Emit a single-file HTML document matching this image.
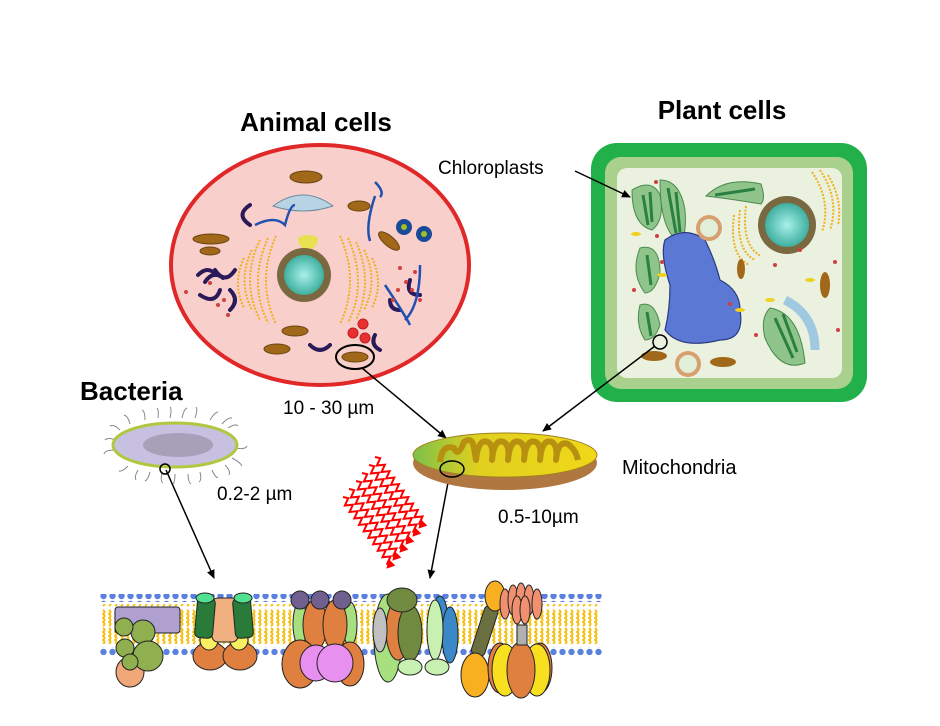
<!DOCTYPE html>
<html><head><meta charset="utf-8"><style>
html,body{margin:0;padding:0;background:#fff;}
svg{display:block;}
text{font-family:"Liberation Sans","Noto Sans CJK KR",sans-serif;}
</style></head><body>
<svg width="940" height="726" viewBox="0 0 940 726" xmlns="http://www.w3.org/2000/svg">
<defs>
<marker id="ah" markerWidth="10" markerHeight="10" refX="8" refY="5" orient="auto" markerUnits="userSpaceOnUse"><path d="M0,1 L9,5 L0,9 z" fill="#000"/></marker>
<marker id="rh" markerWidth="10" markerHeight="10" refX="5" refY="5" orient="auto" markerUnits="userSpaceOnUse"><path d="M0,0 L8,5 L0,10 z" fill="#f00"/></marker>
<radialGradient id="nuc" cx="50%" cy="50%" r="50%"><stop offset="0" stop-color="#a8f0e8"/><stop offset="1" stop-color="#3fb0a0"/></radialGradient>
<linearGradient id="mito" x1="0" y1="0" x2="1" y2="0"><stop offset="0" stop-color="#7cc04a"/><stop offset="0.35" stop-color="#e0d020"/><stop offset="1" stop-color="#f0d818"/></linearGradient>
<pattern id="lip" width="6" height="38" patternUnits="userSpaceOnUse"><path d="M1,2 q3,2 0,4 q3,2 0,4 q3,2 0,4 q3,2 0,4 M1,20 q3,2 0,4 q3,2 0,4 q3,2 0,4 q3,2 0,4" stroke="#f5c010" stroke-width="2" fill="none"/></pattern>
<pattern id="dots" width="9" height="8" patternUnits="userSpaceOnUse"><circle cx="4.5" cy="4" r="3.2" fill="#5a80e0"/></pattern>
<g id="zz"><path d="M0,0 l4,-3.5 l4,7 l4,-7 l4,7 l4,-7 l4,7 l4,-7 l4,7 l4,-7 l4,7 l4,-7 l4,7 l4,-7 l4,7 l4,-7 l4,7 l4,-7 l4,7 l4,-7 l4,7 l4,-3.5" stroke="#f00" stroke-width="2" fill="none" marker-end="url(#rh)"/></g>
</defs>

<!-- Titles -->
<text x="316" y="131" font-size="26" font-weight="bold" text-anchor="middle">Animal cells</text>
<text x="722" y="119" font-size="26" font-weight="bold" text-anchor="middle">Plant cells</text>
<text x="80" y="400" font-size="26" font-weight="bold">Bacteria</text>
<text x="438" y="174" font-size="19">Chloroplasts</text>
<text x="622" y="474" font-size="20">Mitochondria</text>
<text x="283" y="414" font-size="19">10 - 30 µm</text>
<text x="217" y="500" font-size="19">0.2-2 µm</text>
<text x="498" y="523" font-size="19">0.5-10µm</text>

<!-- Animal cell -->
<ellipse cx="320" cy="265" rx="149" ry="120" fill="#f9cfcb" stroke="#e02828" stroke-width="4"/>
<g fill="#a06818" stroke="#6a4410" stroke-width="1">
<ellipse cx="306" cy="177" rx="16" ry="6"/><ellipse cx="359" cy="206" rx="11" ry="5"/>
<ellipse cx="211" cy="239" rx="18" ry="5"/><ellipse cx="210" cy="251" rx="10" ry="4"/>
<ellipse cx="389" cy="241" rx="13" ry="5" transform="rotate(40 389 241)"/>
<ellipse cx="295" cy="331" rx="13" ry="5"/><ellipse cx="277" cy="349" rx="13" ry="5"/>
<ellipse cx="355" cy="357" rx="13" ry="5"/></g>
<ellipse cx="355" cy="357" rx="19" ry="12" fill="none" stroke="#000" stroke-width="2"/>
<path d="M273,206 q30,-22 60,0 q-30,10 -60,0z" fill="#b8d4e4" stroke="#6a8aa0"/>
<circle cx="404" cy="227" r="8" fill="#1a4a9a"/><circle cx="404" cy="227" r="3" fill="#a0c020"/>
<circle cx="424" cy="234" r="8" fill="#1a4a9a"/><circle cx="424" cy="234" r="3" fill="#a0c020"/>
<g fill="none" stroke="#f0b020" stroke-width="2" stroke-dasharray="2 1.5">
<path d="M260,240 q-20,40 0,80"/><path d="M268,238 q-20,45 0,85"/><path d="M276,236 q-20,45 0,88"/><path d="M252,250 q-15,30 0,60"/><path d="M244,258 q-12,25 0,50"/>
<path d="M340,236 q20,45 0,88"/><path d="M348,238 q20,45 0,85"/><path d="M356,242 q18,40 0,78"/><path d="M364,250 q15,30 0,60"/><path d="M372,258 q12,25 0,50"/>
</g>
<path d="M298,238 q10,-6 20,0 q0,10 -10,12 q-10,-2 -10,-12z" fill="#e8e050"/>
<circle cx="304" cy="275" r="27" fill="#7a6840"/>
<circle cx="304" cy="275" r="20" fill="url(#nuc)"/>
<g fill="none" stroke="#2a1a5a" stroke-width="4" stroke-linecap="round">
<path d="M198,275 q10,-10 18,0"/><path d="M215,270 q10,15 20,0"/><path d="M200,295 q15,10 20,-5"/><path d="M230,290 q10,10 0,20"/><path d="M205,282 q8,-12 18,-4"/>
<path d="M250,205 q-15,10 0,20"/><path d="M410,280 q-5,15 10,15"/><path d="M390,300 q0,10 10,10"/><path d="M375,335 q-5,10 5,15"/><path d="M310,345 q10,10 20,0"/>
</g>
<g fill="none" stroke="#2050b0" stroke-width="2.5">
<path d="M255,225 q20,-10 30,0 q5,-20 10,-20"/><path d="M375,182 q10,10 5,15"/><path d="M375,196 q-10,30 -5,45"/><path d="M385,285 q20,30 25,40"/><path d="M420,265 q0,40 -15,55"/>
</g>
<g fill="#d04040"><circle cx="210" cy="283" r="2"/><circle cx="224" cy="300" r="2"/><circle cx="400" cy="268" r="2"/><circle cx="412" cy="290" r="2"/><circle cx="393" cy="300" r="2"/><circle cx="420" cy="300" r="2"/><circle cx="228" cy="315" r="2"/><circle cx="186" cy="292" r="2"/><circle cx="218" cy="305" r="2"/><circle cx="406" cy="282" r="2"/><circle cx="398" cy="290" r="2"/><circle cx="415" cy="272" r="2"/></g>
<g fill="#e83030" stroke="#c02020"><circle cx="363" cy="324" r="5"/><circle cx="353" cy="333" r="5"/><circle cx="365" cy="338" r="5"/></g>

<!-- Plant cell -->
<rect x="591" y="143" width="276" height="259" rx="26" fill="#22b04a"/>
<rect x="605" y="157" width="248" height="232" rx="16" fill="#a9d08c"/>
<rect x="617" y="168" width="225" height="210" rx="10" fill="#eaf1de"/>
<g fill="#8fc48a" stroke="#4a8a50" stroke-width="1">
<path d="M632,190 q20,-12 28,5 q5,25 -8,35 q-20,-5 -20,-40z"/>
<path d="M660,180 q20,0 25,30 q2,25 -5,32 q-20,-10 -20,-62z"/>
<path d="M706,196 q20,-20 55,-12 q5,15 0,20 q-30,-5 -55,-8z"/>
<path d="M640,248 q20,-5 20,25 q-5,20 -15,20 q-15,-20 -5,-45z"/>
<path d="M640,305 q15,-5 20,20 q-5,15 -15,15 q-10,-15 -5,-35z"/>
<path d="M770,308 q30,5 35,55 q-25,10 -40,-25 q-5,-20 5,-30z"/>
</g>
<g stroke="#2a8040" stroke-width="3" fill="none">
<path d="M643,195 l5,30 M650,192 l2,30"/><path d="M668,188 l8,45 M676,192 l4,40"/><path d="M715,195 l40,-6"/><path d="M647,255 l4,30"/><path d="M647,312 l4,24"/><path d="M775,318 l18,40 M783,314 l14,38"/>
</g>
<path d="M665,240 q20,-15 40,0 q10,20 15,40 q20,10 20,30 q5,30 -20,30 q-40,10 -55,-10 q5,-20 5,-45 q-10,-30 -5,-45z" fill="#5a78d4" stroke="#2a3a80" stroke-width="1.2"/>
<path d="M785,300 q30,15 30,50" fill="none" stroke="#a0c8e0" stroke-width="9"/>
<circle cx="787" cy="225" r="29" fill="#7a6840"/>
<circle cx="787" cy="225" r="22" fill="url(#nuc)"/>
<g fill="none" stroke="#f0b020" stroke-width="2" stroke-dasharray="2 1.5">
<path d="M740,210 q-5,40 15,50"/><path d="M734,215 q-5,40 15,50"/><path d="M746,206 q-5,40 15,50"/><path d="M820,170 q20,30 10,60"/><path d="M812,172 q20,30 10,60"/><path d="M828,175 q15,25 10,50"/>
</g>
<circle cx="709" cy="228" r="13" fill="#d8a070"/><circle cx="709" cy="228" r="9" fill="#e0f0d8"/>
<circle cx="688" cy="364" r="13" fill="#d8a070"/><circle cx="688" cy="364" r="9" fill="#e0f0d8"/>
<g fill="#a06818"><ellipse cx="654" cy="356" rx="13" ry="5"/><ellipse cx="723" cy="362" rx="13" ry="5"/><ellipse cx="741" cy="269" rx="4" ry="10"/><ellipse cx="825" cy="285" rx="5" ry="13"/></g>
<g fill="#d04040"><circle cx="656" cy="182" r="2"/><circle cx="657" cy="236" r="2"/><circle cx="662" cy="262" r="2"/><circle cx="634" cy="290" r="2"/><circle cx="730" cy="304" r="2"/><circle cx="756" cy="335" r="2"/><circle cx="800" cy="250" r="2"/><circle cx="835" cy="262" r="2"/><circle cx="775" cy="265" r="2"/><circle cx="838" cy="330" r="2"/></g>
<g fill="#f0d020"><ellipse cx="636" cy="234" rx="5" ry="2"/><ellipse cx="662" cy="275" rx="5" ry="2"/><ellipse cx="770" cy="300" rx="5" ry="2"/><ellipse cx="810" cy="280" rx="5" ry="2"/><ellipse cx="740" cy="310" rx="5" ry="2"/></g>
<circle cx="660" cy="342" r="7" fill="none" stroke="#000" stroke-width="1.5"/>

<!-- Arrows -->
<g stroke="#000" stroke-width="1.5" fill="none">
<line x1="575" y1="171" x2="630" y2="197" marker-end="url(#ah)"/>
<line x1="362" y1="368" x2="446" y2="438" marker-end="url(#ah)"/>
<line x1="655" y1="346" x2="543" y2="431" marker-end="url(#ah)"/>
<line x1="166" y1="470" x2="214" y2="578" marker-end="url(#ah)"/>
<line x1="450" y1="472" x2="430" y2="578" marker-end="url(#ah)"/>
</g>

<!-- Bacterium -->
<g stroke="#888" stroke-width="1" fill="none">
<path d="M120,430 q-6,-6 -10,-4 M130,424 q-2,-8 -6,-9 M145,420 q0,-9 -3,-10 M158,418 q1,-8 -1,-10 M170,418 q2,-9 0,-11 M182,418 q2,-9 5,-10 M195,418 q3,-9 1,-11 M210,420 q5,-8 8,-8 M222,424 q6,-7 10,-6 M228,428 q8,-5 10,-2 M235,448 q10,2 12,-2 M232,458 q8,4 10,8 M225,465 q6,6 4,10 M212,470 q3,7 6,8 M200,472 q2,8 -1,10 M188,474 q0,8 3,10 M175,474 q0,8 -2,10 M162,473 q-2,8 1,10 M150,472 q-2,8 -5,9 M138,470 q-4,7 -2,10 M128,466 q-6,6 -9,5 M114,450 q-9,0 -10,4 M116,440 q-8,-3 -11,0"/>
</g>
<ellipse cx="175" cy="445" rx="62" ry="22" fill="#c8c0e0" stroke="#b0c840" stroke-width="3"/>
<ellipse cx="178" cy="445" rx="35" ry="12" fill="#a8a0b8"/>
<circle cx="165" cy="469" r="5" fill="none" stroke="#000" stroke-width="1.5"/>

<!-- Mitochondrion -->
<ellipse cx="505" cy="463" rx="92" ry="27" fill="#b07840"/>
<ellipse cx="505" cy="455" rx="92" ry="22" fill="url(#mito)" stroke="#a08020"/>
<path d="M440,462 q2,-18 14,-14 q4,10 10,-6 q8,-6 10,6 l2,12 q2,-22 12,-18 q6,4 4,18 q2,-22 12,-18 q6,4 4,18 q2,-22 12,-18 q6,4 4,18 q2,-22 12,-18 q6,4 4,18 q2,-22 12,-18 q6,4 4,18 q2,-20 12,-16 q8,6 10,16" fill="none" stroke="#b89010" stroke-width="6" stroke-linejoin="round"/>
<ellipse cx="452" cy="469" rx="12" ry="8" fill="none" stroke="#000" stroke-width="1.5"/>

<!-- Red zigzags -->
<g>
<use href="#zz" transform="translate(343,497) rotate(54)"/>
<use href="#zz" transform="translate(349,489) rotate(54)"/>
<use href="#zz" transform="translate(356,481) rotate(54)"/>
<use href="#zz" transform="translate(362,473) rotate(54)"/>
<use href="#zz" transform="translate(369,465) rotate(54)"/>
<use href="#zz" transform="translate(375,457) rotate(54)"/>
</g>

<!-- Membrane -->
<rect x="100" y="604" width="500" height="40" fill="url(#lip)"/>
<rect x="100" y="594" width="504" height="8" fill="url(#dots)"/>
<rect x="100" y="647" width="504" height="8" fill="url(#dots)"/>
<g stroke="#222" stroke-width="1">
<rect x="115" y="607" width="65" height="26" rx="3" fill="#b0a0d0"/>
<ellipse cx="130" cy="672" rx="14" ry="15" fill="#f0a878"/>
<circle cx="143" cy="632" r="12" fill="#90b050"/><circle cx="148" cy="656" r="15" fill="#90b050"/><circle cx="125" cy="648" r="9" fill="#90b050"/><circle cx="124" cy="627" r="9" fill="#90b050"/><circle cx="130" cy="662" r="8" fill="#90b050"/>
<ellipse cx="210" cy="656" rx="17" ry="14" fill="#e08040"/><ellipse cx="240" cy="656" rx="17" ry="14" fill="#e08040"/>
<ellipse cx="209" cy="640" rx="9" ry="10" fill="#f8f060"/><ellipse cx="239" cy="640" rx="9" ry="10" fill="#f8f060"/>
<rect x="212" y="598" width="26" height="44" rx="6" fill="#f0b080"/>
<rect x="196" y="598" width="18" height="40" rx="5" fill="#2a7a3a" transform="rotate(5 205 618)"/>
<rect x="234" y="598" width="18" height="40" rx="5" fill="#2a7a3a" transform="rotate(-5 243 618)"/>
<ellipse cx="205" cy="598" rx="9" ry="5" fill="#50e090"/><ellipse cx="243" cy="598" rx="9" ry="5" fill="#50e090"/>
<ellipse cx="300" cy="624" rx="7" ry="22" fill="#a8e080"/><ellipse cx="350" cy="624" rx="7" ry="22" fill="#a8e080"/>
<ellipse cx="315" cy="625" rx="12" ry="25" fill="#e08040"/><ellipse cx="335" cy="625" rx="12" ry="25" fill="#e08040"/>
<ellipse cx="300" cy="664" rx="18" ry="24" fill="#e08040"/><ellipse cx="350" cy="664" rx="14" ry="22" fill="#e08040"/>
<ellipse cx="316" cy="663" rx="16" ry="18" fill="#e890f0"/><ellipse cx="335" cy="663" rx="18" ry="19" fill="#e890f0"/>
<circle cx="300" cy="600" r="9" fill="#706090"/><circle cx="320" cy="600" r="9" fill="#706090"/><circle cx="342" cy="600" r="9" fill="#706090"/>
<ellipse cx="388" cy="638" rx="14" ry="44" fill="#a8e080"/>
<ellipse cx="440" cy="622" rx="8" ry="26" fill="#3a88c8"/><ellipse cx="450" cy="635" rx="8" ry="28" fill="#3a88c8"/>
<ellipse cx="435" cy="630" rx="8" ry="30" fill="#c8f0b0"/>
<ellipse cx="398" cy="630" rx="12" ry="30" fill="#e08040"/>
<ellipse cx="410" cy="633" rx="12" ry="28" fill="#708a40"/>
<ellipse cx="380" cy="630" rx="7" ry="22" fill="#c0c0c0"/>
<ellipse cx="402" cy="600" rx="15" ry="12" fill="#708a40"/>
<ellipse cx="410" cy="667" rx="12" ry="8" fill="#c8f0b0"/><ellipse cx="437" cy="667" rx="12" ry="8" fill="#c8f0b0"/>
<rect x="478" y="606" width="14" height="50" rx="4" fill="#6a7040" transform="rotate(18 485 630)"/>
<ellipse cx="475" cy="675" rx="14" ry="22" fill="#f8b020"/>
<ellipse cx="500" cy="668" rx="12" ry="25" fill="#e08040"/><ellipse cx="540" cy="668" rx="12" ry="25" fill="#e08040"/>
<ellipse cx="505" cy="670" rx="13" ry="26" fill="#f8e020"/><ellipse cx="537" cy="670" rx="13" ry="26" fill="#f8e020"/>
<ellipse cx="521" cy="670" rx="14" ry="28" fill="#e08040"/>
<rect x="517" y="625" width="10" height="20" fill="#b0b0b0"/>
<ellipse cx="495" cy="596" rx="10" ry="15" fill="#f8b020"/>
<g fill="#f09070"><ellipse cx="505" cy="604" rx="5" ry="15"/><ellipse cx="513" cy="600" rx="5" ry="15"/><ellipse cx="521" cy="598" rx="5" ry="15"/><ellipse cx="529" cy="600" rx="5" ry="15"/><ellipse cx="537" cy="604" rx="5" ry="15"/><ellipse cx="517" cy="610" rx="5" ry="14"/><ellipse cx="525" cy="610" rx="5" ry="14"/></g>
</g>
</svg>
</body></html>
